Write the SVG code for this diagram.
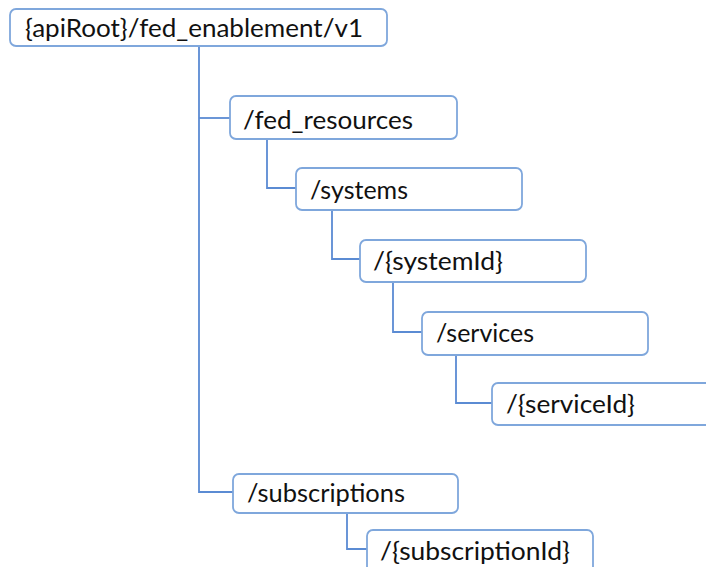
<svg xmlns="http://www.w3.org/2000/svg" width="706" height="567" viewBox="0 0 706 567">
<style>
.box{fill:#fff;stroke:#7FA7DC;stroke-width:1.8}
.lbl{font-family:Lato,"Open Sans","Liberation Sans",sans-serif;font-size:25px;fill:#111}
.con{fill:none;stroke:#5B8BD3;stroke-width:1.8}
</style>
<rect width="706" height="567" fill="#fff"/>
<g id="connectors">
<path class="con" d="M199 46 V492 H233"/>
<path class="con" d="M199 118 H230"/>
<path class="con" d="M267 139 V188 H296"/>
<path class="con" d="M332 209 V259 H360"/>
<path class="con" d="M393 282 V332 H422"/>
<path class="con" d="M456 355 V403 H492"/>
<path class="con" d="M347 512 V549 H367"/>
</g>
<g id="root"><rect class="box" x="10" y="9" width="377" height="37" rx="6"/><text class="lbl" x="25" y="37" textLength="338" lengthAdjust="spacingAndGlyphs">{apiRoot}/fed_enablement/v1</text></g>
<g id="fed_resources"><rect class="box" x="230" y="96" width="227" height="43" rx="6"/><text class="lbl" x="243" y="129" textLength="170" lengthAdjust="spacingAndGlyphs">/fed_resources</text></g>
<g id="systems"><rect class="box" x="296" y="168" width="226" height="42" rx="6"/><text class="lbl" x="310" y="199" textLength="98" lengthAdjust="spacingAndGlyphs">/systems</text></g>
<g id="systemId"><rect class="box" x="360" y="240" width="226" height="42" rx="6"/><text class="lbl" x="373" y="270" textLength="130" lengthAdjust="spacingAndGlyphs">/{systemId}</text></g>
<g id="services"><rect class="box" x="422" y="312" width="226" height="43" rx="6"/><text class="lbl" x="436" y="342" textLength="98" lengthAdjust="spacingAndGlyphs">/services</text></g>
<g id="serviceId"><rect class="box" x="492" y="383" width="226" height="42" rx="6"/><text class="lbl" x="506" y="413" textLength="129" lengthAdjust="spacingAndGlyphs">/{serviceId}</text></g>
<g id="subscriptions"><rect class="box" x="233" y="474" width="225" height="39" rx="6"/><text class="lbl" x="247" y="502" textLength="158" lengthAdjust="spacingAndGlyphs">/subscriptions</text></g>
<g id="subscriptionId"><rect class="box" x="367" y="530" width="226" height="46" rx="6"/><text class="lbl" x="380" y="560" textLength="190" lengthAdjust="spacingAndGlyphs">/{subscriptionId}</text></g>
</svg>
